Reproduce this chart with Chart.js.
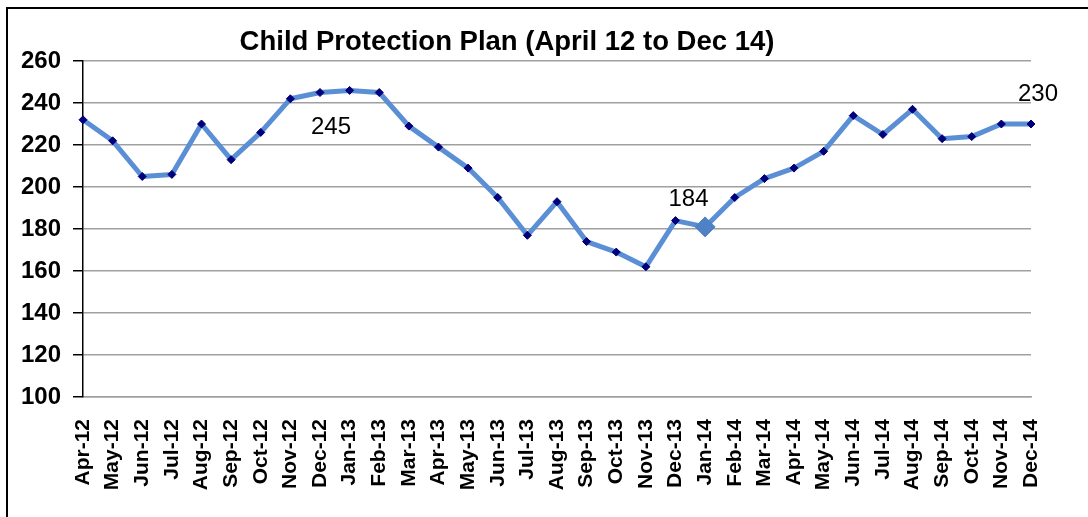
<!DOCTYPE html>
<html>
<head>
<meta charset="utf-8">
<title>Child Protection Plan</title>
<script src="https://cdn.jsdelivr.net/npm/chart.js@4/dist/chart.umd.min.js"></script>
<style>
  body { margin: 0; background: #fff; }
  canvas { display: block; }
</style>
</head>
<body>
<canvas id="cppChart" width="1088" height="517"></canvas>
<script>
const chartTitle = 'Child Protection Plan (April 12 to Dec 14)';

const months = [
  'Apr-12', 'May-12', 'Jun-12', 'Jul-12', 'Aug-12', 'Sep-12', 'Oct-12', 'Nov-12', 'Dec-12',
  'Jan-13', 'Feb-13', 'Mar-13', 'Apr-13', 'May-13', 'Jun-13', 'Jul-13', 'Aug-13', 'Sep-13', 'Oct-13', 'Nov-13', 'Dec-13',
  'Jan-14', 'Feb-14', 'Mar-14', 'Apr-14', 'May-14', 'Jun-14', 'Jul-14', 'Aug-14', 'Sep-14', 'Oct-14', 'Nov-14', 'Dec-14'
];

const plans = [
  232, 222, 205, 206, 230, 213, 226, 242, 245,
  246, 245, 229, 219, 209, 195, 177, 193, 174, 169, 162, 184,
  181, 195, 204, 209, 217, 234, 225, 237, 223, 224, 230, 230
];

const yTicks = [100, 120, 140, 160, 180, 200, 220, 240, 260];

// months that get a value label, and the one with the big marker
const labelledMonths = ['Dec-12', 'Dec-13', 'Dec-14'];
const highlightMonth = 'Jan-14';

const FONT = '"Liberation Sans", Arial, sans-serif';
const LINE_BLUE = '#5a8fd6';
const DOT_NAVY = '#00007a';

// where each value label sits relative to its point
const labelOffsets = { 'Dec-12': [11, 35], 'Dec-13': [13, -21], 'Dec-14': [7, -30] };

const frameAndTitle = {
  id: 'frameAndTitle',
  beforeDraw(chart) {
    const ctx = chart.ctx;
    ctx.save();
    ctx.fillStyle = '#fff';
    ctx.fillRect(0, 0, chart.width, chart.height);
    ctx.strokeStyle = '#000';
    ctx.lineWidth = 2;
    ctx.strokeRect(7, 8, chart.width + 20, chart.height + 20);
    ctx.restore();
  },
  afterDraw(chart) {
    const ctx = chart.ctx;
    ctx.save();
    ctx.font = 'bold 27.5px ' + FONT;
    ctx.fillStyle = '#000';
    ctx.textAlign = 'center';
    ctx.textBaseline = 'middle';
    ctx.fillText(chartTitle, 507, 42);
    ctx.restore();
  }
};

const valueLabels = {
  id: 'valueLabels',
  afterDatasetsDraw(chart) {
    const ctx = chart.ctx;
    const meta = chart.getDatasetMeta(0);
    ctx.save();
    ctx.font = '24px ' + FONT;
    ctx.fillStyle = '#000';
    ctx.textAlign = 'center';
    ctx.textBaseline = 'middle';
    labelledMonths.forEach(m => {
      const i = months.indexOf(m);
      const pt = meta.data[i];
      const off = labelOffsets[m];
      ctx.fillText(String(plans[i]), pt.x + off[0], pt.y + off[1]);
    });
    ctx.restore();
  }
};

const hiIndex = months.indexOf(highlightMonth);

new Chart(document.getElementById('cppChart'), {
  type: 'line',
  data: {
    labels: months,
    datasets: [{
      label: 'Child Protection Plan',
      data: plans,
      borderColor: LINE_BLUE,
      borderWidth: 5,
      borderJoinStyle: 'round',
      tension: 0,
      clip: false,
      pointStyle: 'rectRot',
      pointRadius: months.map((m, i) => i === hiIndex ? 10 : 4),
      pointBackgroundColor: months.map((m, i) => i === hiIndex ? '#4f82c4' : DOT_NAVY),
      pointBorderColor: months.map((m, i) => i === hiIndex ? '#4f82c4' : DOT_NAVY),
      pointBorderWidth: 1
    }]
  },
  options: {
    responsive: false,
    animation: false,
    devicePixelRatio: 1,
    layout: { padding: { left: 0, top: 61, right: 57, bottom: 0 } },
    plugins: {
      legend: { display: false },
      title: { display: false },
      tooltip: { enabled: false }
    },
    scales: {
      x: {
        offset: false,
        grid: { display: false },
        border: { display: true, color: '#a0a0a0', width: 1.5 },
        ticks: {
          autoSkip: false,
          minRotation: 90,
          maxRotation: 90,
          padding: 14,
          color: '#000',
          font: { family: FONT, size: 21, weight: 'bold' }
        },
        afterFit(scale) { scale.height = 120; }
      },
      y: {
        min: yTicks[0],
        max: yTicks[yTicks.length - 1],
        afterBuildTicks(scale) { scale.ticks = yTicks.map(v => ({ value: v })); },
        grid: { color: '#a0a0a0', lineWidth: 1.5, tickColor: '#000', tickLength: 10 },
        border: { display: true, color: '#000', width: 1.5 },
        ticks: {
          padding: 12,
          color: '#000',
          font: { family: FONT, size: 24, weight: 'bold' }
        },
        afterFit(scale) { scale.width = 83; }
      }
    }
  },
  plugins: [frameAndTitle, valueLabels]
});
</script>
</body>
</html>
